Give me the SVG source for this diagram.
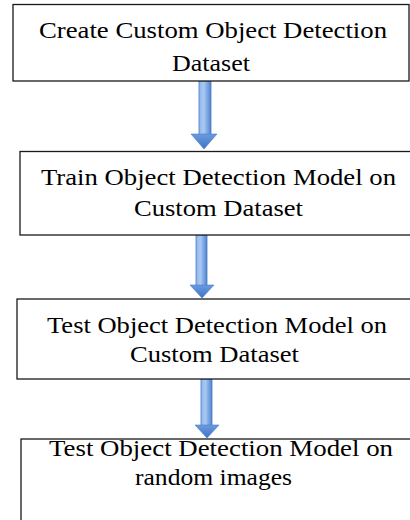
<svg xmlns="http://www.w3.org/2000/svg" width="410" height="520" viewBox="0 0 410 520">
<defs>
<linearGradient id="ag" x1="0" y1="0" x2="1" y2="0">
<stop offset="0" stop-color="#8fb6ea"/>
<stop offset="0.4" stop-color="#a9c9f3"/>
<stop offset="1" stop-color="#4f84d0"/>
</linearGradient>
<linearGradient id="hg" x1="0" y1="0" x2="0" y2="1">
<stop offset="0" stop-color="#6a9ae0"/>
<stop offset="1" stop-color="#3f74c4"/>
</linearGradient>
</defs>
<style>
.box{fill:#fff;stroke:#1a1a1a;stroke-width:1.3}
.t{font-family:"Liberation Serif","Times New Roman",serif;font-size:23px;fill:#000;text-anchor:middle}
.shaft{fill:url(#ag);stroke:#4a7cc4;stroke-width:0.8}
.head{fill:url(#hg);stroke:#4a7cc4;stroke-width:0.6}
</style>
<g id="connectors">
<g id="a1"><rect class="shaft" x="199" y="81" width="12" height="54"/><polygon class="head" points="191,134 217,134 204,149"/></g>
<g id="a2"><rect class="shaft" x="196" y="235" width="11" height="51"/><polygon class="head" points="190,285 214,285 202,298"/></g>
<g id="a3"><rect class="shaft" x="201" y="379" width="11" height="47"/><polygon class="head" points="195,425 219,425 207,438"/></g>
</g>
<g id="n1"><rect class="box" x="13" y="4.5" width="396" height="76.5"/>
<text class="t" x="213" y="38.3" textLength="348" lengthAdjust="spacingAndGlyphs">Create Custom Object Detection</text>
<text class="t" x="211" y="70.7" textLength="78" lengthAdjust="spacingAndGlyphs">Dataset</text></g>
<g id="n2"><rect class="box" x="20" y="151.5" width="400" height="83.5"/>
<text class="t" x="218.5" y="185" textLength="355" lengthAdjust="spacingAndGlyphs">Train Object Detection Model on</text>
<text class="t" x="218.5" y="216" textLength="169" lengthAdjust="spacingAndGlyphs">Custom Dataset</text></g>
<g id="n3"><rect class="box" x="17" y="299" width="403" height="80"/>
<text class="t" x="217" y="332.7" textLength="340" lengthAdjust="spacingAndGlyphs">Test Object Detection Model on</text>
<text class="t" x="214.5" y="361.7" textLength="169" lengthAdjust="spacingAndGlyphs">Custom Dataset</text></g>
<g id="n4"><rect class="box" x="21" y="439" width="400" height="90"/>
<text class="t" x="221" y="455.7" textLength="344" lengthAdjust="spacingAndGlyphs">Test Object Detection Model on</text>
<text class="t" x="213.5" y="485" textLength="157" lengthAdjust="spacingAndGlyphs">random images</text></g>
</svg>
